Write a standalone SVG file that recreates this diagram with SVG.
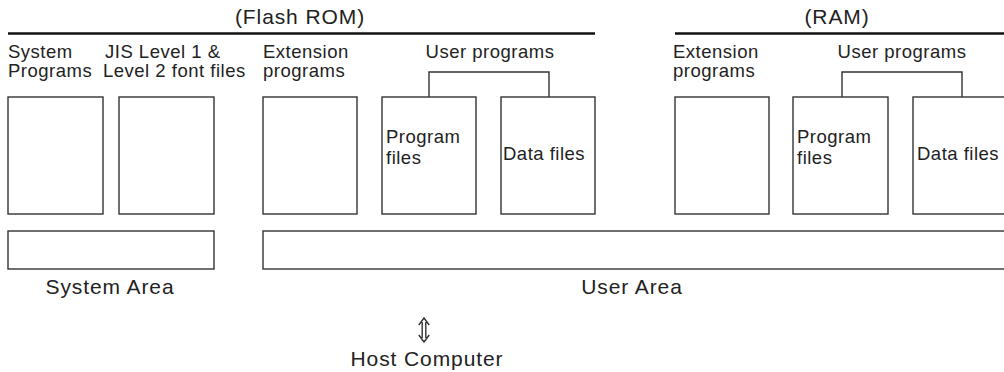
<svg xmlns="http://www.w3.org/2000/svg" width="1004" height="372" viewBox="0 0 1004 372">
<style>
text{font-family:"Liberation Sans",Arial,sans-serif;fill:#222}
.t{font-size:18.5px;letter-spacing:0.5px}
.h{font-size:21px;letter-spacing:0.9px;text-anchor:middle}
.box{fill:#fff;stroke:#333;stroke-width:1.4}
.rule{stroke:#111;stroke-width:2.5}
.conn{fill:none;stroke:#333;stroke-width:1.4}
</style>
<rect width="1004" height="372" fill="#fff"/>
<g id="flash-rom-header">
<text class="h" x="300" y="24">(Flash ROM)</text>
<line class="rule" x1="8" y1="33.5" x2="595" y2="33.5"/>
</g>
<g id="ram-header">
<text class="h" x="837" y="24">(RAM)</text>
<line class="rule" x1="675" y1="33.5" x2="1004" y2="33.5"/>
</g>
<g id="system-programs">
<text class="t" x="8" y="58">System</text>
<text class="t" x="8" y="77">Programs</text>
<rect class="box" x="8" y="97" width="95" height="117"/>
</g>
<g id="font-files">
<text class="t" x="105" y="58">JIS Level 1 &amp;</text>
<text class="t" x="103" y="77">Level 2 font files</text>
<rect class="box" x="119" y="97" width="95" height="117"/>
</g>
<g id="rom-extension">
<text class="t" x="263" y="58">Extension</text>
<text class="t" x="263" y="77">programs</text>
<rect class="box" x="263" y="97" width="94" height="117"/>
</g>
<g id="rom-user-programs">
<text class="t" x="490" y="58" text-anchor="middle">User programs</text>
</g>
<g id="rom-program-files">
<rect class="box" x="382" y="97" width="94" height="117"/>
<text class="t" x="386" y="143">Program</text>
<text class="t" x="386" y="164">files</text>
</g>
<g id="rom-data-files">
<rect class="box" x="501" y="97" width="94" height="117"/>
<text class="t" x="503" y="160">Data files</text>
</g>
<g id="ram-extension">
<text class="t" x="673" y="58">Extension</text>
<text class="t" x="673" y="77">programs</text>
<rect class="box" x="675" y="97" width="94" height="117"/>
</g>
<g id="ram-user-programs">
<text class="t" x="902" y="58" text-anchor="middle">User programs</text>
</g>
<g id="ram-program-files">
<rect class="box" x="793" y="97" width="95" height="117"/>
<text class="t" x="797" y="143">Program</text>
<text class="t" x="797" y="164">files</text>
</g>
<g id="ram-data-files">
<rect class="box" x="913" y="97" width="100" height="117"/>
<text class="t" x="917" y="160">Data files</text>
</g>
<g id="system-area">
<rect class="box" x="8" y="231" width="206" height="38"/>
<text class="h" x="110" y="294">System Area</text>
</g>
<g id="user-area">
<rect class="box" x="263" y="231" width="750" height="38"/>
<text class="h" x="632" y="294">User Area</text>
</g>
<g id="host-computer">
<text class="h" x="427" y="366">Host Computer</text>
</g>
<g id="connectors">
<path class="conn" d="M429 97V72H549V97"/>
<path class="conn" d="M842 97V72H962V97"/>
<path class="conn" stroke-width="1.3" d="M422.2 322V338M425.8 322V338M418.8 325L424 318L429.2 325M418.8 335L424 342L429.2 335"/>
</g>
</svg>
